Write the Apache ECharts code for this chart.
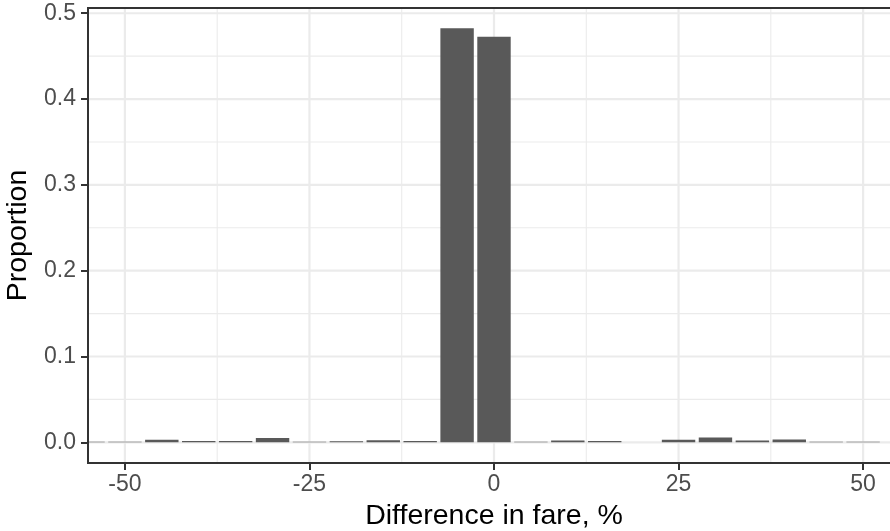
<!DOCTYPE html>
<html><head><meta charset="utf-8">
<script src="https://cdn.jsdelivr.net/npm/echarts@6/dist/echarts.min.js"></script>
<style>html,body{margin:0;padding:0;background:#fff}#c{width:890px;height:531px}</style>
</head><body><div id="c"></div>
<script>
// ---- data ----
const binCenters  = [-55, -50, -45, -40, -35, -30, -25, -20, -15, -10, -5, 0, 5, 10, 15, 20, 25, 30, 35, 40, 45, 50, 55];
const proportions = [0.0008, 0.0008, 0.003, 0.0015, 0.0015, 0.005, 0.0008, 0.0012, 0.0025, 0.0015, 0.4824, 0.4726,
                     0.0008, 0.0022, 0.0015, 0, 0.003, 0.0056, 0.0022, 0.0033, 0.0008, 0.0008, 0];
const binWidth = 5;
const xTicks = [-50, -25, 0, 25, 50];
const xMinor = [-37.5, -12.5, 12.5, 37.5];
const yTicks = [0, 0.1, 0.2, 0.3, 0.4, 0.5];
const yMinor = [0.05, 0.15, 0.25, 0.35, 0.45];
const xTitle = 'Difference in fare, %';
const yTitle = 'Proportion';

const FONT = "'Liberation Sans', Arial, sans-serif";
const chart = echarts.init(document.getElementById('c'), null, {renderer: 'canvas'});

function vLines(values, width) {
  return {
    type: 'custom', z: 1, silent: true, clip: false,
    data: values.map(v => [v, 0]),
    renderItem: (params, api) => {
      const cs = params.coordSys;
      const x = api.coord([api.value(0), 0])[0];
      return {type: 'line', shape: {x1: x, y1: cs.y, x2: x, y2: cs.y + cs.height},
              style: {stroke: '#EBEBEB', lineWidth: width}};
    }
  };
}
function hLines(values, width) {
  return {
    type: 'custom', z: 1, silent: true, clip: false,
    data: values.map(v => [0, v]),
    renderItem: (params, api) => {
      const cs = params.coordSys;
      const y = api.coord([0, api.value(1)])[1];
      return {type: 'line', shape: {x1: cs.x, y1: y, x2: cs.x + cs.width, y2: y},
              style: {stroke: '#EBEBEB', lineWidth: width}};
    }
  };
}

const barSeries = {
  type: 'custom', z: 3, silent: true, clip: true,
  data: binCenters.map((c, i) => [c, proportions[i]]),
  renderItem: (params, api) => {
    const c = api.value(0), v = api.value(1);
    const p0 = api.coord([c - binWidth / 2, v]);
    const p1 = api.coord([c + binWidth / 2, 0]);
    const g = 1.75;
    return {type: 'rect',
            shape: {x: p0[0] + g, y: p0[1], width: p1[0] - p0[0] - 2 * g, height: p1[1] - p0[1]},
            style: {fill: '#595959'}};
  }
};

const tickStyle = {show: true, length: 7, lineStyle: {color: '#333333', width: 2}};
const labelStyle = {fontSize: 23, color: '#4D4D4D', fontFamily: FONT};

chart.setOption({
  animation: false,
  backgroundColor: '#ffffff',
  grid: {left: 88, right: -10, top: 8, bottom: 68, show: true, borderColor: '#333333', borderWidth: 2,
         backgroundColor: 'transparent', z: 10, containLabel: false, outerBoundsMode: 'none'},
  xAxis: {
    type: 'value', min: -55, max: 55,
    axisLine: {show: false, onZero: false},
    axisTick: Object.assign({customValues: xTicks}, tickStyle),
    axisLabel: Object.assign({customValues: xTicks, margin: 10.5, formatter: v => String(v)}, labelStyle),
    splitLine: {show: false}, minorSplitLine: {show: false},
    name: xTitle, nameLocation: 'middle', nameGap: 35,
    nameTextStyle: {fontSize: 28.5, color: '#000000', fontFamily: FONT}
  },
  yAxis: {
    type: 'value', min: -0.0241, max: 0.5061,
    axisLine: {show: false, onZero: false},
    axisTick: Object.assign({customValues: yTicks}, tickStyle),
    axisLabel: Object.assign({customValues: yTicks, margin: 12, formatter: v => v.toFixed(1)}, labelStyle),
    splitLine: {show: false}, minorSplitLine: {show: false},
    name: yTitle, nameLocation: 'middle', nameGap: 53.5, nameRotate: 90,
    nameTextStyle: {fontSize: 28.5, color: '#000000', fontFamily: FONT}
  },
  series: [
    hLines(yMinor, 1.1), vLines(xMinor, 1.1),
    hLines(yTicks, 2.2), vLines(xTicks, 2.2),
    barSeries
  ]
});
</script>
</body></html>
